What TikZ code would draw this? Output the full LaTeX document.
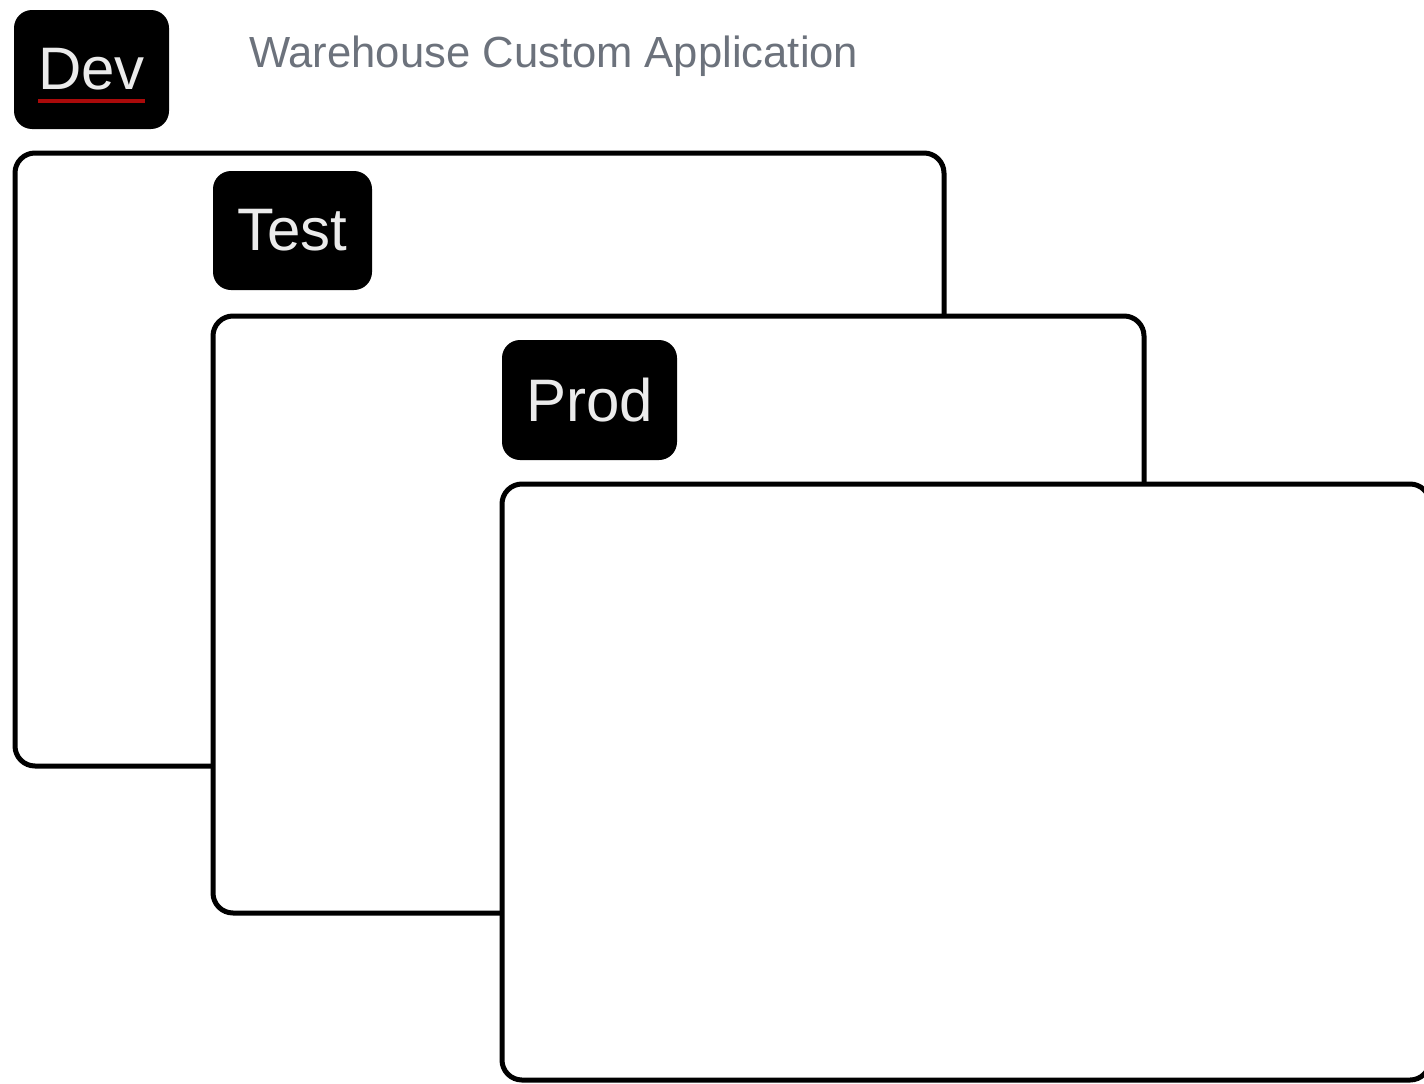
\documentclass[tikz,border=0pt]{standalone}
\usepackage{fontspec}
\setmainfont{Liberation Sans}
\definecolor{titlegray}{RGB}{108,114,124}
\definecolor{labeltext}{RGB}{235,235,235}
\definecolor{darkred}{RGB}{170,10,10}
\begin{document}
\begin{tikzpicture}[x=1pt,y=-1pt,
  envbox/.style={draw=black, line width=5pt, fill=white, rounded corners=20pt, anchor=north west, inner sep=0pt, outer sep=0pt},
  tag/.style={fill=black, rounded corners=18pt, anchor=north west, inner sep=0pt, outer sep=0pt, text=labeltext, font=\fontsize{60}{62}\selectfont},
  titletext/.style={text=titlegray, font=\fontsize{43.6}{46}\selectfont, inner sep=0pt}]
\useasboundingbox (0,0) rectangle (1424,1084);
\clip (0,0) rectangle (1424,1084);
% Dev environment box
\node[envbox, minimum width=929pt, minimum height=613pt] (devbox) at (15,153) {};
\node[tag, minimum width=155pt, minimum height=119pt] (devtag) at (14,10) {Dev};
\coordinate (ulA) at (38,101);
\coordinate (ulB) at (145,101);
\draw[darkred, line width=3.5pt] (ulA) -- (ulB);
\node[titletext, anchor=west] (title) at (249,56) {Warehouse Custom Application};
\node[tag, minimum width=159pt, minimum height=119pt] (testtag) at (213,171) {Test};
% Test environment box
\node[envbox, minimum width=931pt, minimum height=597pt] (testbox) at (213,316) {};
\node[tag, minimum width=175pt, minimum height=120pt] (prodtag) at (502,340) {Prod};
% Prod environment box
\node[envbox, minimum width=928pt, minimum height=596pt] (prodbox) at (502,484) {};
\end{tikzpicture}
\end{document}
